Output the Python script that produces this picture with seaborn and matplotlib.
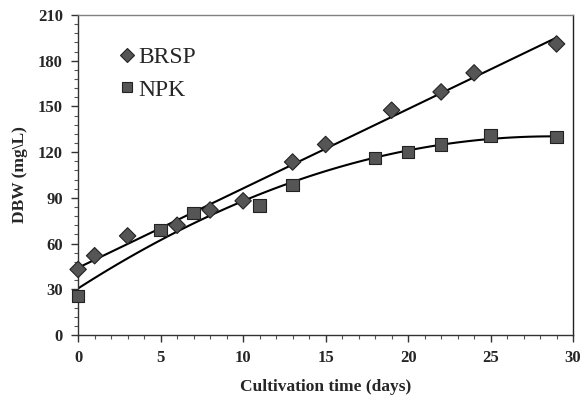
import numpy as np
import pandas as pd
import matplotlib
matplotlib.use("Agg")
import matplotlib.pyplot as plt
from matplotlib.ticker import MultipleLocator
import seaborn as sns

brsp_days = [0, 1, 3, 6, 8, 10, 13, 15, 19, 22, 24, 29]
brsp_dbw = [43, 52, 65, 72, 82, 88, 113.5, 125, 147.5, 159.5, 172, 191]
npk_days = [0, 5, 7, 11, 13, 18, 20, 22, 25, 29]
npk_dbw = [25.5, 69, 80, 85, 98.5, 116, 120, 125, 131, 130]

sns.set_theme(style="ticks")
plt.rcParams['font.family'] = ['Liberation Serif', 'DejaVu Serif']

fig = plt.figure(figsize=(5.83, 4.05), dpi=100)
ax = fig.add_axes([0.134, 0.173, 0.849, 0.79])

df = pd.concat([
    pd.DataFrame({"days": brsp_days, "dbw": brsp_dbw, "series": "BRSP"}),
    pd.DataFrame({"days": npk_days, "dbw": npk_dbw, "series": "NPK"}),
])

# trend lines fitted from the data
xb = np.linspace(0, 29, 100)
pb = np.polyfit(brsp_days, brsp_dbw, 1)
pn = np.polyfit(npk_days, npk_dbw, 2)
fit = pd.concat([
    pd.DataFrame({"days": xb, "dbw": np.polyval(pb, xb), "series": "BRSP"}),
    pd.DataFrame({"days": xb, "dbw": np.polyval(pn, xb), "series": "NPK"}),
])
sns.lineplot(data=fit, x="days", y="dbw", units="series", estimator=None,
             color="black", lw=1.5, ax=ax, legend=False)

sns.scatterplot(data=df, x="days", y="dbw", style="series",
                markers={"BRSP": "D", "NPK": "s"}, color="#555555",
                edgecolor="#222222", linewidth=0.8,
                size="series", sizes={"BRSP": 70, "NPK": 80}, ax=ax, zorder=3,
                clip_on=False)

h, l = ax.get_legend_handles_labels()
ax.legend(h, l, loc="upper left", bbox_to_anchor=(0.06, 0.93), frameon=False,
          prop={"family": "Liberation Serif", "size": 17}, handletextpad=0.1,
          handlelength=0.8, labelspacing=0.45, borderaxespad=0, markerscale=0.85)

ax.set_xlim(0, 30)
ax.set_ylim(0, 210)
ax.xaxis.set_major_locator(MultipleLocator(5))
ax.xaxis.set_minor_locator(MultipleLocator(1))
ax.yaxis.set_major_locator(MultipleLocator(30))
ax.yaxis.set_minor_locator(MultipleLocator(6))
ax.tick_params(axis="both", which="major", length=5, width=1, color="#333333",
               labelsize=12, pad=6)
ax.tick_params(axis="both", which="minor", length=3, width=0.8, color="#555555")
for lab in ax.get_xticklabels() + ax.get_yticklabels():
    lab.set_fontweight("bold")

ax.set_xlabel("Cultivation time (days)", fontsize=12.5, fontweight="bold", labelpad=9)
ax.set_ylabel("DBW (mg\\L)", fontsize=12.5, fontweight="bold", labelpad=7)

for s in ["left", "bottom"]:
    ax.spines[s].set_color("#333333")
    ax.spines[s].set_linewidth(1.0)
ax.spines["top"].set_color("#808080")
ax.spines["right"].set_color("#222222")
for s in ["top", "right"]:
    ax.spines[s].set_visible(True)
    ax.spines[s].set_linewidth(1.0)

fig.savefig("out.png", dpi=100)
